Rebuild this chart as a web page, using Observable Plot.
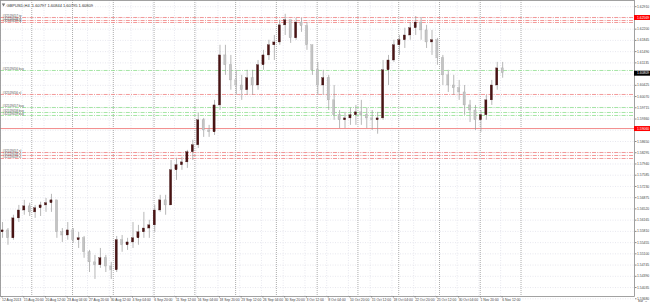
<!DOCTYPE html>
<html><head><meta charset="utf-8">
<script src="https://cdn.jsdelivr.net/npm/d3@7"></script>
<script src="https://cdn.jsdelivr.net/npm/@observablehq/plot@0.6"></script>
<style>
html,body{margin:0;padding:0;background:#fff;}
#chart{width:650px;height:304px;overflow:hidden;}
</style></head><body><div id="chart"></div>
<script>
const symbolTitle = "GBPUSD,H4  1.60797 1.60844 1.60795 1.60809";
const barsPerCandle = 4;
const firstOpen = 1.5578;
const highs = [1.5609,1.5590,1.5632,1.5663,1.5679,1.5670,1.5663,1.5673,1.5685,1.5698,
1.5679,1.5590,1.5609,1.5590,1.5578,1.5565,1.5521,1.5505,1.5527,1.5505,
1.5483,1.5565,1.5568,1.5559,1.5609,1.5600,1.5641,1.5616,1.5663,1.5695,
1.5695,1.5805,1.5812,1.5815,1.5837,1.5869,1.5954,1.5938,1.5916,1.5995,
1.6169,1.6169,1.6137,1.6090,1.6074,1.6090,1.6090,1.6121,1.6153,1.6185,
1.6200,1.6248,1.6267,1.6248,1.6254,1.6254,1.6241,1.6169,1.6115,1.6090,
1.6074,1.6042,1.5963,1.5957,1.5970,1.5979,1.5995,1.5970,1.5963,1.5957,
1.6121,1.6137,1.6185,1.6200,1.6223,1.6241,1.6260,1.6257,1.6232,1.6216,
1.6191,1.6137,1.6090,1.6074,1.6058,1.6042,1.5995,1.5979,1.5963,1.6011,
1.6058,1.6115,1.6115];
const lows = [1.5559,1.5537,1.5553,1.5609,1.5632,1.5628,1.5622,1.5628,1.5641,1.5641,
1.5559,1.5546,1.5553,1.5543,1.5527,1.5496,1.5451,1.5429,1.5464,1.5451,
1.5429,1.5451,1.5515,1.5521,1.5527,1.5537,1.5559,1.5559,1.5578,1.5641,
1.5632,1.5663,1.5742,1.5774,1.5780,1.5805,1.5843,1.5878,1.5878,1.5884,
1.5963,1.6074,1.6027,1.6011,1.5995,1.6011,1.6011,1.6027,1.6090,1.6121,
1.6121,1.6169,1.6200,1.6175,1.6185,1.6210,1.6153,1.6074,1.6011,1.6011,
1.5963,1.5932,1.5906,1.5906,1.5916,1.5916,1.5916,1.5906,1.5900,1.5888,
1.5932,1.6042,1.6115,1.6137,1.6159,1.6185,1.6200,1.6185,1.6159,1.6137,
1.6106,1.6042,1.6020,1.6011,1.5995,1.5948,1.5925,1.5900,1.5894,1.5932,
1.5979,1.6027,1.6065];
const closes = [1.5584,1.5559,1.5622,1.5647,1.5660,1.5641,1.5654,1.5663,1.5670,1.5679,
1.5578,1.5568,1.5584,1.5553,1.5559,1.5515,1.5483,1.5474,1.5496,1.5470,
1.5458,1.5553,1.5537,1.5546,1.5559,1.5578,1.5590,1.5600,1.5647,1.5679,
1.5663,1.5774,1.5790,1.5799,1.5831,1.5853,1.5932,1.5900,1.5894,1.5979,
1.6137,1.6106,1.6058,1.6042,1.6027,1.6065,1.6042,1.6106,1.6137,1.6169,
1.6178,1.6232,1.6248,1.6191,1.6241,1.6229,1.6169,1.6090,1.6042,1.6065,
1.5995,1.5948,1.5932,1.5938,1.5948,1.5957,1.5948,1.5938,1.5932,1.5938,
1.6090,1.6121,1.6169,1.6185,1.6200,1.6223,1.6241,1.6216,1.6178,1.6185,
1.6128,1.6074,1.6042,1.6033,1.6020,1.5979,1.5963,1.5932,1.5948,1.5995,
1.6042,1.6096,1.60809];

const timeLabels = ["12 Aug 2013","15 Aug 20:00","20 Aug 12:00","23 Aug 04:00","27 Aug 20:00","30 Aug 12:00",
"4 Sep 04:00","6 Sep 20:00","11 Sep 12:00","16 Sep 04:00","18 Sep 20:00","23 Sep 12:00","26 Sep 04:00",
"30 Sep 20:00","3 Oct 12:00","8 Oct 04:00","10 Oct 20:00","15 Oct 12:00","18 Oct 04:00","22 Oct 20:00",
"25 Oct 12:00","30 Oct 04:00","1 Nov 20:00","6 Nov 12:00"];
const barsPerTimeLabel = 16;
const weekStartBars = [23,53,83,113,143,173,203,233,263,293,323,353,383];
const priceTicks = [1.62910,1.62555,1.62200,1.61845,1.61490,1.61135,1.60780,1.60425,1.60070,1.59715,
1.59360,1.59005,1.58650,1.58295,1.57940,1.57585,1.57230,1.56875,1.56520,1.56165,1.55810,1.55455,
1.55100,1.54745,1.54390,1.54035,1.53680];

const tpPrices = [1.62569,1.62474,1.62411];
const tpLabels = ["#32519457 tp","#32519458 tp","#32519459 tp"];
const buyPrices = [1.60894,1.59725,1.59567,1.59472];
const buyLabels = ["#32519456 buy","#32519457 buy","#32519458 buy","#32519459 buy"];
const slPrices = [1.60136,1.58303,1.58208,1.58113];
const slLabels = ["#32519456 sl","#32519457 sl","#32519458 sl","#32519459 sl"];
const levelPrices = [1.62569,1.59060];
const bidPrice = 1.60809;

const X0 = 0, X1 = 466.5;
const candles = closes.map((c, i) => ({
  bar: i * barsPerCandle + (barsPerCandle - 1) / 2,
  open: i === 0 ? firstOpen : closes[i - 1],
  high: highs[i], low: lows[i], close: c
}));
const tickBars = timeLabels.map((_, k) => k * barsPerTimeLabel);
const fmt = d3.format(".5f");
const font = "Liberation Sans, Arial, sans-serif";
const fs = 3.4;
const dashDot = "4,1.2,1,1.2";
// price labels hidden beneath the coloured price boxes
const boxed = [...levelPrices, bidPrice];
const visibleTicks = priceTicks.filter(t => !boxed.some(b => Math.abs(b - t) < 0.0015));

const chart = Plot.plot({
  width: 650, height: 304,
  marginLeft: 0, marginRight: 16, marginTop: 0, marginBottom: 8,
  style: {background: "#fff", fontFamily: font, fontSize: fs + "px", color: "#444"},
  x: {domain: [X0, X1], axis: null},
  y: {domain: [1.53752, 1.63106], axis: null},
  marks: [
    Plot.ruleY(priceTicks, {stroke: "#d8d8e4", strokeWidth: 0.6, strokeDasharray: "1,1.5"}),
    Plot.ruleX(tickBars, {stroke: "#d8d8e4", strokeWidth: 0.6, strokeDasharray: "1,1.5"}),
    Plot.ruleX(weekStartBars, {stroke: "#8a8a8a", strokeWidth: 0.7, strokeDasharray: "1,1"}),
    Plot.ruleY(levelPrices.slice(1), {stroke: "#f08080", strokeWidth: 0.9}),
    Plot.ruleY(tpPrices, {stroke: "#f08080", strokeWidth: 0.8, strokeDasharray: dashDot}),
    Plot.ruleY(slPrices, {stroke: "#f08080", strokeWidth: 0.8, strokeDasharray: dashDot}),
    Plot.ruleY(buyPrices, {stroke: "#90e090", strokeWidth: 0.8, strokeDasharray: dashDot}),
    Plot.text(tpPrices.map((p, i) => ({p, t: tpLabels[i]})), {x: X0, y: "p", text: "t", textAnchor: "start", dx: 2, dy: -1.4, fontSize: 3.1, fill: "#555"}),
    Plot.text(slPrices.map((p, i) => ({p, t: slLabels[i]})), {x: X0, y: "p", text: "t", textAnchor: "start", dx: 2, dy: -1.4, fontSize: 3.1, fill: "#555"}),
    Plot.text(buyPrices.map((p, i) => ({p, t: buyLabels[i]})), {x: X0, y: "p", text: "t", textAnchor: "start", dx: 2, dy: -1.4, fontSize: 3.1, fill: "#555"}),
    Plot.ruleX(candles, {x: "bar", y1: "low", y2: "high", stroke: "#9a9a9a", strokeWidth: 0.7}),
    Plot.rect(candles, {x1: d => d.bar - 0.8, x2: d => d.bar + 0.8, y1: "open", y2: "close",
      fill: d => d.close >= d.open ? "#4a1414" : "#c4c4c4", stroke: d => d.close >= d.open ? "#3a1010" : "#a0a0a0", strokeWidth: 0.3}),
    Plot.frame({stroke: "#8a8a8a", strokeWidth: 0.8}),
    Plot.axisY(visibleTicks, {anchor: "right", tickSize: 1.5, tickPadding: 1, tickFormat: fmt, fontSize: fs, stroke: "#888", fill: "#444"}),
    Plot.axisX(tickBars, {anchor: "bottom", tickSize: 1.5, tickPadding: 1, tickFormat: d => timeLabels[d / barsPerTimeLabel], textAnchor: "start", dx: 1.5, fontSize: fs, stroke: "#888", fill: "#444"}),
    Plot.ruleY(levelPrices, {x1: X1, x2: X1 + 11.8, stroke: "#ff0000", strokeWidth: 5}),
    Plot.text(levelPrices, {x: X1, y: d => d, text: fmt, textAnchor: "start", dx: 2.5, fontSize: fs, fill: "#fff"}),
    Plot.ruleY([bidPrice], {x1: X1, x2: X1 + 11.8, stroke: "#000", strokeWidth: 5}),
    Plot.text([bidPrice], {x: X1, y: d => d, text: fmt, textAnchor: "start", dx: 2.5, fontSize: fs, fill: "#fff"}),
    Plot.dot([0], {frameAnchor: "top-left", dx: 3, dy: 4, symbol: "triangle", r: 1.3, fill: "#777", rotate: 180}),
    Plot.text([symbolTitle], {frameAnchor: "top-left", dx: 6, dy: 4, textAnchor: "start", fontSize: 4, fill: "#333"})
  ]
});
document.getElementById("chart").appendChild(chart);
</script></body></html>
